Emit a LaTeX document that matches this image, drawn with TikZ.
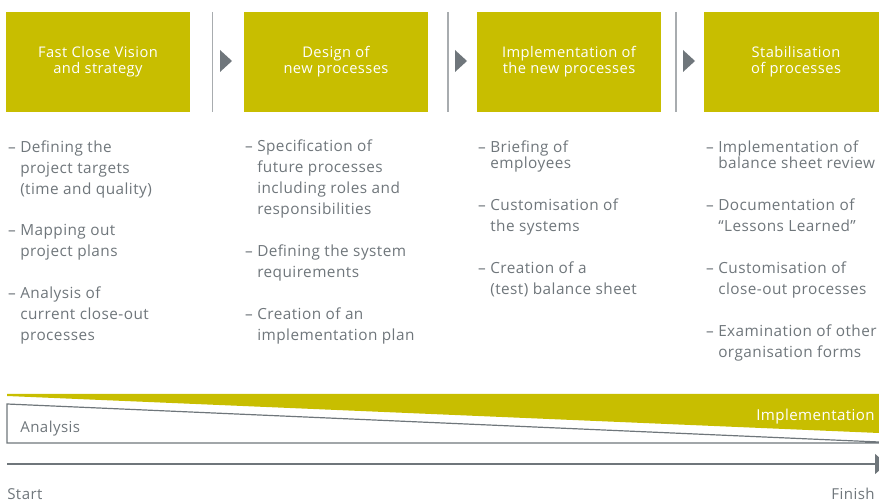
\documentclass[tikz,border=0pt]{standalone}
\usepackage{fontspec}
\setmainfont{Open Sans}[LetterSpace=3]
\usetikzlibrary{arrows.meta}
\definecolor{fcyellow}{HTML}{C8BE00}
\definecolor{fcgrey}{HTML}{6F767B}
\definecolor{fcline}{HTML}{A8ACAF}
\begin{document}
\begin{tikzpicture}[x=0.75pt, y=-0.75pt,
  phase/.style={fill=fcyellow, text=white, minimum width=138pt, minimum height=75pt,
    inner sep=0pt, align=center, font=\fontsize{11}{12}\selectfont},
  item/.style={anchor=base west, inner sep=0pt, align=left, text=fcgrey,
    font=\fontsize{11.5}{15.75}\selectfont},
  tight/.style={font=\fontsize{11.5}{12}\selectfont},
  sep/.style={draw=fcline, line width=1pt},
  bartext/.style={inner sep=0pt, font=\fontsize{11.3}{12}\selectfont}]
\useasboundingbox (0,0) rectangle (879,502);
\node[phase] (P_1) at (98,62) {Fast Close Vision\\and strategy};
\node[phase] (P_2) at (336,62) {Design of\\new processes};
\node[phase] (P_3) at (569,62) {Implementation of\\the new processes};
\node[phase] (P_4) at (796,62) {Stabilisation\\of processes};
\foreach \x in {212.5,448,676}
  \draw[sep] (\x,12) -- (\x,112);
\foreach \x in {220,455,683}
  \fill[fcgrey] (\x,50) -- ++(12,11) -- ++(-12,11) -- cycle;
\node[item] (I_1_1) at (20,194.5) {\leavevmode\llap{– }Defining the\\project targets\\(time and quality)};
\node[item] (I_1_2) at (20,256.5) {\leavevmode\llap{– }Mapping out\\project plans};
\node[item] (I_1_3) at (20,340.5) {\leavevmode\llap{– }Analysis of\\current close-out\\processes};
\node[item] (I_2_1) at (257,215) {\leavevmode\llap{– }Specification of\\future processes\\including roles and\\responsibilities};
\node[item] (I_2_2) at (257,277.5) {\leavevmode\llap{– }Defining the system\\requirements};
\node[item] (I_2_3) at (257,340.5) {\leavevmode\llap{– }Creation of an\\implementation plan};
\node[item, tight] (I_3_1) at (490,168.5) {\leavevmode\llap{– }Briefing of\\employees};
\node[item] (I_3_2) at (490,231.5) {\leavevmode\llap{– }Customisation of\\the systems};
\node[item] (I_3_3) at (490,294.5) {\leavevmode\llap{– }Creation of a\\(test) balance sheet};
\node[item, tight] (I_4_1) at (718,168.5) {\leavevmode\llap{– }Implementation of\\balance sheet review};
\node[item] (I_4_2) at (718,231.5) {\leavevmode\llap{– }Documentation of\\“Lessons Learned”};
\node[item] (I_4_3) at (718,294.5) {\leavevmode\llap{– }Customisation of\\close-out processes};
\node[item] (I_4_4) at (718,357.5) {\leavevmode\llap{– }Examination of other\\organisation forms};
\fill[fcyellow] (7,394) -- (879,394) -- (879,433) -- (7,396) -- cycle;
\draw[fcgrey, line width=0.9pt] (879,442) -- (7,404) -- (7,443) -- (879,443);
\node[bartext, text=white, anchor=base east] (impl) at (875,420.7) {Implementation};
\node[bartext, text=fcgrey, anchor=base west] (ana) at (20,432.3) {Analysis};
\coordinate (start) at (7,464);
\coordinate (finish) at (887,464);
\draw[fcgrey, line width=0.9pt, -{Triangle[length=9pt, width=15pt]}] (start) -- (finish);
\node[bartext, text=fcgrey, anchor=base west] (startlbl) at (7,499.5) {Start};
\node[bartext, text=fcgrey, anchor=base east] (finishlbl) at (875,499.5) {Finish};
\end{tikzpicture}
\end{document}
